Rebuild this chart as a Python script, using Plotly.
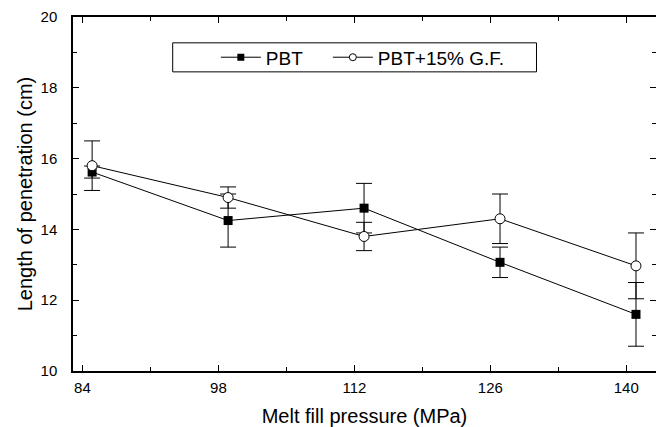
import plotly.graph_objects as go

pressure = [85, 99, 113, 127, 141]
pbt = [15.62, 14.25, 14.6, 13.07, 11.6]
pbt_err = [0.17, 0.75, 0.7, 0.43, 0.9]
pbt_gf = [15.8, 14.9, 13.8, 14.3, 12.97]
pbt_gf_err = [0.7, 0.3, 0.4, 0.7, 0.93]

x_ticks = [84, 98, 112, 126, 140]
y_ticks = [10, 12, 14, 16, 18, 20]

FONT = "Liberation Sans, Arial, Helvetica, sans-serif"

fig = go.Figure()
fig.add_trace(go.Scatter(
    x=pressure, y=pbt, name="PBT", mode="lines+markers", showlegend=False,
    line=dict(color="black", width=1),
    marker=dict(symbol="square", size=9, color="black"),
    error_y=dict(type="data", array=pbt_err, color="black", thickness=1, width=8),
))
fig.add_trace(go.Scatter(
    x=pressure, y=pbt_gf, name="PBT+15% G.F.", mode="lines+markers", showlegend=False,
    line=dict(color="black", width=1),
    marker=dict(symbol="circle", size=10, color="white", line=dict(color="black", width=1)),
    error_y=dict(type="data", array=pbt_gf_err, color="black", thickness=1, width=8),
))
# legend entries (smaller symbols, as in the reference key)
fig.add_trace(go.Scatter(
    x=[None], y=[None], name="PBT", mode="lines+markers", legendwidth=57,
    line=dict(color="black", width=1),
    marker=dict(symbol="square", size=7, color="black"),
))
fig.add_trace(go.Scatter(
    x=[None], y=[None], name="PBT+15% G.F.", mode="lines+markers",
    line=dict(color="black", width=1),
    marker=dict(symbol="circle", size=7, color="white", line=dict(color="black", width=1)),
))

axis_common = dict(
    showline=True, linecolor="black", linewidth=1.5, mirror="ticks",
    ticks="inside", ticklen=6, tickwidth=1, tickcolor="black",
    showgrid=False, zeroline=False, automargin=False,
    tickfont=dict(family=FONT, size=15, color="black"),
)

fig.update_xaxes(
    range=[83.03, 143.06], tickvals=x_ticks, ticktext=[str(v) for v in x_ticks],
    minor=dict(ticks="inside", ticklen=4, tickwidth=1, tickcolor="black", dtick=7, tick0=84),
    title=dict(text="Melt fill pressure (MPa)", font=dict(family=FONT, size=20, color="black"), standoff=14),
    ticklabelstandoff=2,
    **axis_common,
)
fig.update_yaxes(
    range=[10, 20], tickvals=y_ticks, ticktext=[str(v) for v in y_ticks],
    minor=dict(ticks="inside", ticklen=4, tickwidth=1, tickcolor="black", dtick=1, tick0=10),
    title=dict(text="Length of penetration (cm)", font=dict(family=FONT, size=20, color="black"), standoff=3),
    ticklabelstandoff=11,
    **axis_common,
)

fig.add_shape(type="rect", xref="paper", yref="paper",
              x0=0.171, x1=0.795, y0=0.845, y1=0.927,
              line=dict(color="black", width=1), fillcolor="rgba(0,0,0,0)")

fig.update_layout(
    width=656, height=419,
    margin=dict(l=65, r=8, t=9, b=56),
    paper_bgcolor="white", plot_bgcolor="white",
    font=dict(family=FONT, size=15, color="black"),
    showlegend=True,
    legend=dict(
        orientation="h", x=0.245, y=0.886, xanchor="left", yanchor="middle",
        bgcolor="rgba(0,0,0,0)", borderwidth=0,
        font=dict(family=FONT, size=19, color="black"),
        itemwidth=40,
    ),
)

fig.write_html("out.html")
